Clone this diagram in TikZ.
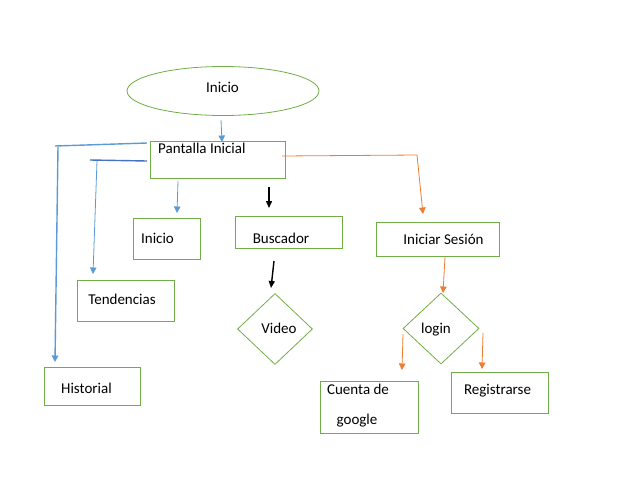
\documentclass[tikz,border=0pt]{standalone}
\usepackage{fontspec}
\setmainfont{Carlito}
\usetikzlibrary{shapes.geometric,arrows.meta}

\definecolor{boxgreen}{HTML}{70AD47}
\definecolor{lineblue}{HTML}{5B9BD5}
\definecolor{darkblue}{HTML}{4472C4}
\definecolor{lineorange}{HTML}{ED7D31}

\tikzset{
  box/.style={draw=boxgreen, line width=0.8pt, inner sep=0pt},
  rhomb/.style={diamond, draw=boxgreen, line width=0.8pt, inner sep=0pt},
  txt/.style={font=\fontsize{15}{18}\selectfont, inner sep=0pt, text height=13pt, text depth=2pt},
  tip/.style={-{Triangle[length=6.5pt,width=6.5pt]}},
  bluearrow/.style={tip, draw=lineblue, line width=0.8pt},
  bluebar/.style={draw=lineblue, line width=1.4pt},
  darkbar/.style={draw=darkblue, line width=1.4pt},
  orangearrow/.style={tip, draw=lineorange, line width=0.8pt},
  blackarrow/.style={-{Triangle[length=7pt,width=6pt]}, line width=1.4pt},
}

\begin{document}
\begin{tikzpicture}[x=1pt, y=-1pt]
\useasboundingbox (0,0) rectangle (621,488);

% shapes
\node[ellipse, draw=boxgreen, line width=0.8pt, minimum width=192pt, minimum height=49pt] (start) at (223,91) {};
\node[txt] at (222.5,87) {Inicio};
\node[box, minimum width=135pt, minimum height=37pt] (pant) at (217.5,159.5) {};
\node[txt, anchor=west] at (158,148) {Pantalla Inicial};
\node[box, minimum width=67pt, minimum height=41pt] (home) at (166.5,238.5) {};
\node[txt] at (157.5,238) {Inicio};
\node[box, minimum width=107pt, minimum height=32pt] (busc) at (288.5,232) {};
\node[txt] at (281,238) {Buscador};
\node[box, minimum width=123pt, minimum height=34pt] (ses) at (437.5,239) {};
\node[txt] at (443.5,239) {Iniciar Sesión};
\node[box, minimum width=97pt, minimum height=41pt] (tend) at (125.5,300.5) {};
\node[txt] at (122,299) {Tendencias};
\node[box, minimum width=96pt, minimum height=38pt] (hist) at (92,386) {};
\node[txt] at (86.5,388) {Historial};
\node[rhomb, minimum width=75pt, minimum height=71pt] (video) at (275,329) {};
\node[txt] at (279,328) {Video};
\node[rhomb, minimum width=76pt, minimum height=71pt] (login) at (441,328.5) {};
\node[txt] at (436,328) {login};
\node[box, minimum width=98pt, minimum height=52pt] (cuenta) at (369,407) {};
\node[txt] at (358,389) {Cuenta de};
\node[txt] at (357,419) {google};
\node[box, minimum width=97pt, minimum height=41pt] (reg) at (499.5,392.5) {};
\node[txt] at (497.5,389) {Registrarse};

% free ends of the connectors
\coordinate (b1) at (55,146);
\coordinate (b2) at (90,160);
\coordinate (o1) at (417,155);

% blue branches
\draw[bluearrow] (221,120) -- (222,142);
\draw[bluebar] (b1) -- (147,143);
\draw[bluearrow, line width=1.4pt] (58,147) -- (55,362);
\draw[darkbar] (b2) -- (147,161);
\draw[bluearrow] (97,161) -- (93,274);
\draw[bluearrow] (178,181) -- (177,213);

% black arrows
\draw[blackarrow] (269,187) -- (269,208);
\draw[blackarrow] (274,261) -- (271,288);

% orange branches
\draw[draw=lineorange, line width=0.8pt] (282,156) -- (o1);
\draw[orangearrow] (o1) -- (423,214);
\draw[orangearrow] (445,257) -- (443,293);
\draw[orangearrow] (403,334) -- (402,370);
\draw[orangearrow] (483,333) -- (482,369);
\end{tikzpicture}
\end{document}
